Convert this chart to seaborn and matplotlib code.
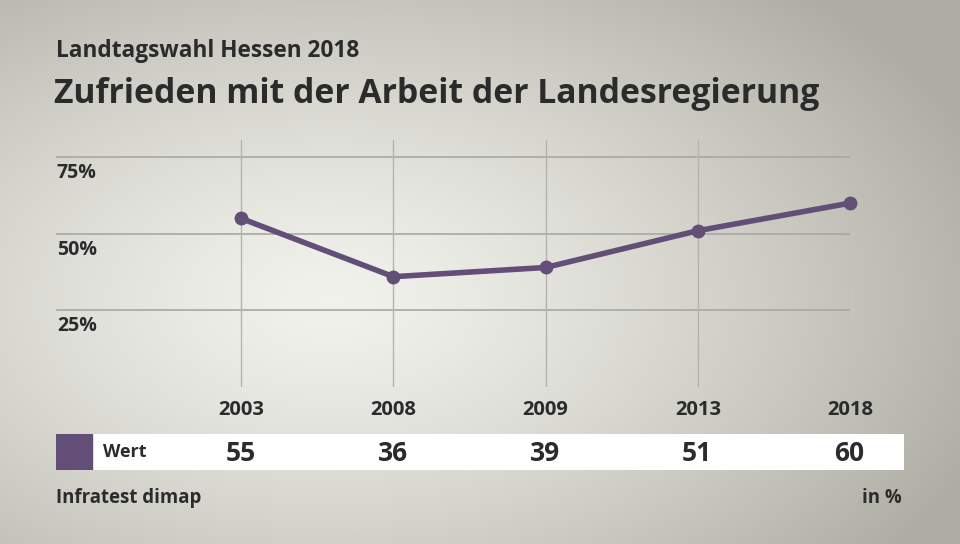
import matplotlib
matplotlib.use('Agg')
import seaborn as sns
import matplotlib.pyplot as plt
import numpy as np
import pandas as pd

years = ["2003", "2008", "2009", "2013", "2018"]
werte = [55, 36, 39, 51, 60]
y_ticks = [25, 50, 75]
y_tick_labels = ["25%", "50%", "75%"]
series_name = "Wert"

title = "Zufrieden mit der Arbeit der Landesregierung"
subtitle = "Landtagswahl Hessen 2018"
source = "Infratest dimap"
unit = "in %"

purple = "#634e78"
text_col = "#2b2b2b"

sns.set_theme(style="white")
plt.rcParams['font.family'] = ['Open Sans', 'DejaVu Sans']

W, H = 960, 544
fig = plt.figure(figsize=(W / 100, H / 100), dpi=100)

# background gradient
bg = fig.add_axes([0, 0, 1, 1])
yy, xx = np.mgrid[0:H, 0:W]
d = np.sqrt(((xx - 330) / 700.0) ** 2 + ((yy - 300) / 420.0) ** 2)
light = np.array([0.95, 0.95, 0.93])
dark = np.array([0.68, 0.68, 0.64])
t = np.clip(d, 0, 1)[..., None] ** 1.3
img = light * (1 - t) + dark * t
bg.imshow(img, aspect='auto', extent=[0, W, H, 0])
bg.set_axis_off()

# plot axes in pixel space
def px_axes(x0, y0, x1, y1):
    return fig.add_axes([x0 / W, 1 - y1 / H, (x1 - x0) / W, (y1 - y0) / H])

ax = px_axes(56, 140, 850, 387)
ax.patch.set_alpha(0)
df = pd.DataFrame({"pos": np.arange(len(years)), "wert": werte})
sns.lineplot(data=df, x="pos", y="wert", ax=ax, color=purple, linewidth=4,
             marker="o", markersize=10, markeredgewidth=0, zorder=5)
for ln in ax.lines:
    ln.set_clip_on(False)
ax.set_xlim(-1.217, 4.0)
ax.set_ylim(0, 80.6)
for v in y_ticks:
    ax.axhline(v, color="#a8a8a2", linewidth=1.2, zorder=1)
for i in range(len(years)):
    ax.axvline(i, color="#b4b4ae", linewidth=1.0, zorder=1)
for v, lab in zip(y_ticks, y_tick_labels):
    ax.annotate(lab, xy=(-1.217, v), xytext=(1, -6), textcoords="offset pixels",
                ha="left", va="top", fontsize=14, fontweight="bold", color=text_col)
for i, yr in enumerate(years):
    ax.annotate(yr, xy=(i, 0), xytext=(0, -23), textcoords="offset pixels",
                ha="center", va="center", fontsize=14.5, fontweight="bold", color=text_col)
ax.set_axis_off()
ax.set_xlabel("")
ax.set_ylabel("")

# table row
tab = px_axes(56, 434, 904, 470)
tab.set_xlim(56, 904)
tab.set_ylim(0, 1)
tab.axhspan(0, 1, xmin=(92 - 56) / (904 - 56), xmax=1, color="white", zorder=1)
tab.axvspan(56, 92, color=purple, zorder=2)
tab.text(103, 0.5, series_name, ha="left", va="center", fontsize=13,
         fontweight="bold", color=text_col)
for i, v in enumerate(werte):
    xpix = 241 + 152 * i
    tab.text(xpix, 0.47, str(v), ha="center", va="center", fontsize=19,
             fontweight="bold", color=text_col)
tab.set_axis_off()

fig.text(56 / W, 1 - 57 / H, subtitle, ha="left", va="baseline", fontsize=16.3,
         fontweight="bold", color=text_col)
fig.text(54 / W, 1 - 103 / H, title, ha="left", va="baseline", fontsize=24.3,
         fontweight="bold", color=text_col)
fig.text(56 / W, 1 - 503 / H, source, ha="left", va="baseline", fontsize=13.4,
         fontweight="bold", color=text_col)
fig.text(902 / W, 1 - 503 / H, unit, ha="right", va="baseline", fontsize=13.4,
         fontweight="bold", color=text_col)

fig.savefig("out.png", dpi=100)
